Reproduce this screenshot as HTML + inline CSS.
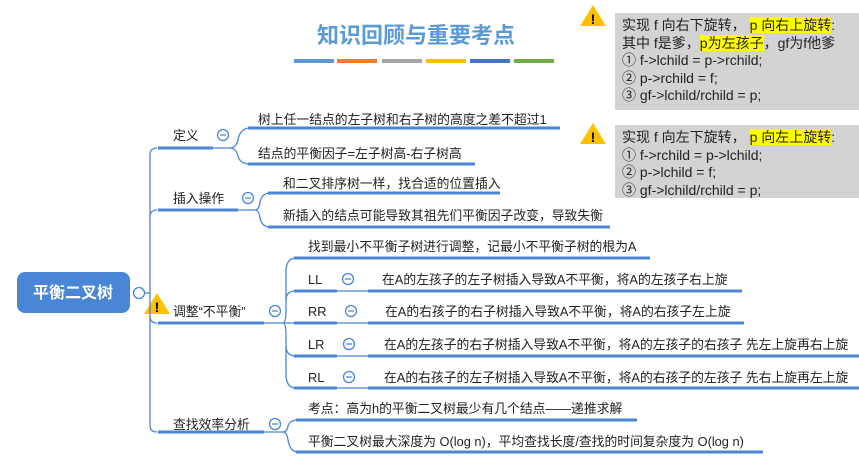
<!DOCTYPE html>
<html><head><meta charset="utf-8"><style>
html,body{margin:0;padding:0;background:#fff;}
body{position:relative;width:859px;height:458px;overflow:hidden;}
svg{display:block;font-family:"Liberation Sans","Noto Sans CJK SC",sans-serif;}
.box{position:absolute;left:615px;width:244px;background:#d3d3d3;font-family:"Liberation Sans","Noto Sans CJK SC",sans-serif;font-size:14px;color:#222;line-height:17.5px;padding:4px 0 0 7px;box-sizing:border-box;white-space:nowrap;}
.hl{background:#ffff00;}
</style></head><body>
<svg width="859" height="458" viewBox="0 0 859 458" xmlns="http://www.w3.org/2000/svg">
<text x="416" y="43" font-size="22" font-weight="bold" fill="#5b9bd5" text-anchor="middle">知识回顾与重要考点</text>
<g>
<rect x="294" y="59" width="40" height="4" fill="#5b9bd5"/>
<rect x="337" y="59" width="40" height="4" fill="#ed7d31"/>
<rect x="382" y="59" width="40" height="4" fill="#a5a5a5"/>
<rect x="426" y="59" width="40" height="4" fill="#ffc000"/>
<rect x="470" y="59" width="40" height="4" fill="#4472c4"/>
<rect x="514" y="59" width="40" height="4" fill="#70ad47"/>
</g>
<g>
<polygon points="593,5 580,26 606,26" fill="#ffc000"/><text x="593" y="24" font-size="14" font-weight="bold" text-anchor="middle">!</text>
<polygon points="593,123 580,144 606,144" fill="#ffc000"/><text x="593" y="142" font-size="14" font-weight="bold" text-anchor="middle">!</text>
<polygon points="157,293 144,314 170,314" fill="#ffc000"/><text x="157" y="312" font-size="14" font-weight="bold" text-anchor="middle">!</text>
</g>
<rect x="17" y="272" width="113" height="41" rx="8" fill="#4a86d6"/>
<text x="73" y="298" font-size="16" font-weight="bold" fill="#fff" text-anchor="middle">平衡二叉树</text>
<circle cx="139" cy="293" r="5.5" fill="#fff" stroke="#4a86d6" stroke-width="1.3"/>
<g fill="none" stroke="#4a86d6" stroke-width="1.3">
<path d="M145,293 H150"/>
<path d="M150,155 Q150,148 157,148 M150,155 V425 Q150,432 157,432"/>
<path d="M150,217 Q150,210 157,210"/>
<path d="M150,316 Q150,323 157,323"/>
<path d="M213,148 H230 Q236,148 238,140 Q240,128 250,128"/>
<path d="M230,148 Q236,148 238,156 Q240,164 250,164"/>
<path d="M238,210 H255 Q259,210 260,202 Q262,193 270,193"/>
<path d="M255,210 Q259,210 260,218 Q262,227 270,227"/>
<path d="M264,323 H288"/>
<path d="M283,323 Q286,323 286,310 V272 Q286,258 296,258"/>
<path d="M286,300 Q286,291 296,291"/>
<path d="M283,323 Q286,323 286,336 V374 Q286,388 296,388"/>
<path d="M286,346 Q286,356 296,356"/>
<path d="M288,323 H296"/>
<path d="M264,432 H283 Q287,432 288,426 Q290,420 298,420"/>
<path d="M283,432 Q287,432 288,440 Q290,452 298,452"/>
<path d="M337,291 H368 M337,323 H368 M337,356 H368 M337,388 H368"/>
</g>
<g stroke="#4a86d6" stroke-width="3" fill="none">
<path d="M158,148 H213 M158,210 H238 M158,323 H264 M158,432 H264"/>
<path d="M248,128 H560 M248,164 H475 M268,193 H500 M268,227 H610"/>
<path d="M294,258 H650 M294,291 H337 M294,323 H337 M294,356 H337 M294,388 H337"/>
<path d="M368,291 H742 M368,323 H744 M368,356 H859 M368,388 H859"/>
<path d="M296,420 H637 M296,452 H763"/>
</g>
<g fill="#fff" stroke="#4a86d6" stroke-width="1.3">
<circle cx="223" cy="135" r="5.5"/><circle cx="248" cy="198" r="5.5"/>
<circle cx="275" cy="311" r="5.5"/><circle cx="275" cy="424" r="5.5"/>
<circle cx="348" cy="279" r="5.5"/><circle cx="351" cy="311" r="5.5"/>
<circle cx="349" cy="344" r="5.5"/><circle cx="349" cy="377" r="5.5"/>
</g>
<g stroke="#4a86d6" stroke-width="1.3">
<path d="M220,135 H226 M245,198 H251 M272,311 H278 M272,424 H278 M345,279 H351 M348,311 H354 M346,344 H352 M346,377 H352"/>
</g>
<g font-size="12.8" fill="#222">
<text x="173" y="140">定义</text>
<text x="173" y="203">插入操作</text>
<text x="173" y="316">调整“不平衡”</text>
<text x="173" y="429">查找效率分析</text>
<text x="258" y="124">树上任一结点的左子树和右子树的高度之差不超过1</text>
<text x="258" y="158">结点的平衡因子=左子树高-右子树高</text>
<text x="283" y="188">和二叉排序树一样，找合适的位置插入</text>
<text x="283" y="220">新插入的结点可能导致其祖先们平衡因子改变，导致失衡</text>
<text x="308" y="251">找到最小不平衡子树进行调整，记最小不平衡子树的根为A</text>
<text x="308" y="284">LL</text><text x="308" y="316">RR</text><text x="308" y="349">LR</text><text x="308" y="382">RL</text>
<text x="382" y="284">在A的左孩子的左子树插入导致A不平衡，将A的左孩子右上旋</text>
<text x="385" y="316">在A的右孩子的右子树插入导致A不平衡，将A的右孩子左上旋</text>
<text x="384" y="349">在A的左孩子的右子树插入导致A不平衡，将A的左孩子的右孩子 先左上旋再右上旋</text>
<text x="384" y="382">在A的右孩子的左子树插入导致A不平衡，将A的右孩子的左孩子 先右上旋再左上旋</text>
<text x="308" y="413">考点：高为h的平衡二叉树最少有几个结点——递推求解</text>
<text x="308" y="446">平衡二叉树最大深度为 O(log n)，平均查找长度/查找的时间复杂度为 O(log n)</text>
</g>
</svg>
<div class="box" style="top:13px;height:97px;">实现 f 向右下旋转， <span class="hl">p 向右上旋转</span>:<br>其中 f是爹，<span class="hl">p为左孩子</span>，gf为f他爹<br>① f-&gt;lchild = p-&gt;rchild;<br>② p-&gt;rchild = f;<br>③ gf-&gt;lchild/rchild = p;</div>
<div class="box" style="top:125px;height:73px;">实现 f 向左下旋转， <span class="hl">p 向左上旋转</span>:<br>① f-&gt;rchild = p-&gt;lchild;<br>② p-&gt;lchild = f;<br>③ gf-&gt;lchild/rchild = p;</div>
</body></html>
